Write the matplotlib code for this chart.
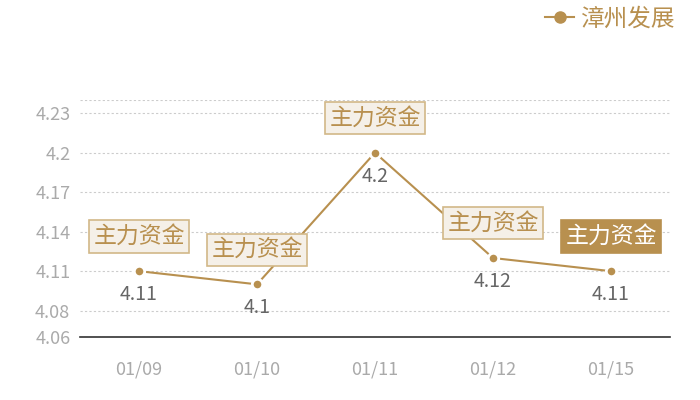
import matplotlib
matplotlib.use("Agg")
import matplotlib.pyplot as plt
from matplotlib.lines import Line2D

plt.rcParams['font.family'] = ['Noto Sans CJK SC', 'DejaVu Sans']

categories = ["01/09", "01/10", "01/11", "01/12", "01/15"]
values = [4.11, 4.10, 4.20, 4.12, 4.11]
series_name = "漳州发展"
box_label = "主力资金"
y_ticks = [4.06, 4.08, 4.11, 4.14, 4.17, 4.2, 4.23, 4.24]
y_tick_labels = ["4.06", "4.08", "4.11", "4.14", "4.17", "4.2", "4.23", ""]

gold = "#b8904f"
fig = plt.figure(figsize=(7, 4), dpi=100)
ax = fig.add_axes([80/700, 63/400, 590/700, 237/400])

x = list(range(len(categories)))
ax.plot(x, values, color=gold, lw=1.5, zorder=3)
ax.plot(x, values, ls='none', marker='o', ms=7.5, mfc=gold, mec='white', mew=2, zorder=4)

ax.set_xlim(-0.5, len(categories) - 0.5)
ax.set_ylim(4.06, 4.24)
ax.set_yticks(y_ticks)
ax.set_yticklabels(y_tick_labels)
ax.set_xticks(x)
ax.set_xticklabels(categories)
ax.tick_params(axis='both', length=0, colors='#aaaaaa', labelsize=13)
ax.tick_params(axis='x', pad=17)
ax.tick_params(axis='y', pad=7)
ax.grid(axis='y', ls=(0, (2, 2)), color='#cccccc', lw=0.8)
for s in ['top', 'right', 'left']:
    ax.spines[s].set_visible(False)
ax.spines['bottom'].set_color('#333333')
ax.spines['bottom'].set_linewidth(1.2)

for i, v in enumerate(values):
    ax.annotate(f"{v:g}", (i, v), xytext=(0, -17), textcoords='offset points',
                ha='center', va='center', fontsize=14, color='#666666', zorder=5)
    last = (i == len(values) - 1)
    ax.annotate(box_label, (i, v), xytext=(0, 25), textcoords='offset points',
                ha='center', va='center', fontsize=16.5,
                color='white' if last else gold, zorder=6,
                bbox=dict(boxstyle='square,pad=0.2',
                          fc=gold if last else '#f5f0e8',
                          ec=gold if last else '#d2b888', lw=1.2))

handle = Line2D([0], [0], color=gold, lw=1.5, marker='o', ms=8, mfc=gold, mec=gold)
fig.legend([handle], [series_name], loc='upper right', bbox_to_anchor=(0.995, 1.035),
           frameon=False, fontsize=17, labelcolor=gold, handlelength=1.2,
           handletextpad=0.3)

fig.savefig("out.png", dpi=100)
